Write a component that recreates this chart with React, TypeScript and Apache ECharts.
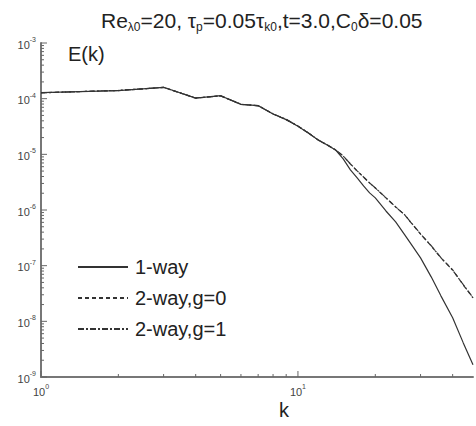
import React, { useEffect, useRef } from 'react';
import * as echarts from 'echarts';

// wavenumbers
const kValues = [1, 2, 3, 4, 5, 6, 7, 8, 9, 10, 11, 12, 13, 14, 15, 16, 17, 18, 19, 20, 22, 24, 26, 28, 30, 33, 36, 40, 44, 48];

// energy spectra E(k)
const oneWay = [
  1.28e-4, 1.4e-4, 1.6e-4, 1.02e-4, 1.13e-4, 7.9e-5, 7.5e-5, 5.3e-5, 4.2e-5, 3.2e-5,
  2.4e-5, 1.8e-5, 1.47e-5, 1.2e-5, 8.3e-6, 5.25e-6, 3.77e-6, 2.71e-6, 2.03e-6, 1.65e-6,
  9.6e-7, 6.1e-7, 3.6e-7, 2.2e-7, 1.38e-7, 6.3e-8, 2.87e-8, 1.16e-8, 4.1e-9, 1.66e-9,
];
const twoWayG0 = [
  1.28e-4, 1.4e-4, 1.6e-4, 1.02e-4, 1.13e-4, 7.9e-5, 7.5e-5, 5.3e-5, 4.2e-5, 3.2e-5,
  2.4e-5, 1.8e-5, 1.47e-5, 1.2e-5, 9.4e-6, 6.7e-6, 5.0e-6, 3.9e-6, 3.07e-6, 2.49e-6,
  1.65e-6, 1.14e-6, 8.2e-7, 5.4e-7, 3.7e-7, 2.27e-7, 1.38e-7, 8.4e-8, 4.5e-8, 2.64e-8,
];
const twoWayG1 = [
  1.27e-4, 1.41e-4, 1.59e-4, 1.03e-4, 1.12e-4, 7.95e-5, 7.45e-5, 5.35e-5, 4.25e-5, 3.22e-5,
  2.42e-5, 1.81e-5, 1.48e-5, 1.21e-5, 9.3e-6, 6.75e-6, 5.05e-6, 3.92e-6, 3.05e-6, 2.5e-6,
  1.66e-6, 1.13e-6, 8.25e-7, 5.45e-7, 3.72e-7, 2.28e-7, 1.39e-7, 8.3e-8, 4.55e-8, 2.66e-8,
];

const seriesNames = ['1-way', '2-way,g=0', '2-way,g=1'];

// axis ticks
const xMajorTicks = [1, 10];
const xMinorTicks = [2, 3, 4, 5, 6, 7, 8, 9, 20, 30, 40];
const yMajorExponents = [-9, -8, -7, -6, -5, -4, -3];
const yMinorMantissas = [2, 3, 4, 5, 6, 7, 8, 9];

const X_MIN = 1;
const X_MAX = 48;
const Y_MIN = 1e-9;
const Y_MAX = 1e-3;

function pairs(ys: number[]) {
  return kValues.map((k, i) => [k, ys[i]]);
}

export default function App() {
  const ref = useRef<HTMLDivElement>(null);

  useEffect(() => {
    if (!ref.current) return;
    const chart = echarts.init(ref.current, undefined, { renderer: 'svg' });

    const tickData: number[][] = [];
    yMajorExponents.forEach((e) => {
      tickData.push([X_MIN, Math.pow(10, e), 0, 6]);
      if (e < -3) {
        yMinorMantissas.forEach((m) => tickData.push([X_MIN, m * Math.pow(10, e), 0, 3]));
      }
    });
    xMajorTicks.forEach((k) => tickData.push([k, Y_MIN, 1, 6]));
    xMinorTicks.forEach((k) => tickData.push([k, Y_MIN, 1, 3]));

    const powLabel = (v: number) => {
      const e = Math.round(Math.log10(v));
      if (Math.abs(Math.pow(10, e) - v) / v > 1e-6) return '';
      return '{b|10}{s|' + String(e) + '}';
    };
    const labelRich = {
      b: { fontSize: 11, lineHeight: 14, verticalAlign: 'bottom', color: '#444', fontFamily: 'Liberation Sans' },
      s: { fontSize: 7, lineHeight: 7, verticalAlign: 'top', color: '#444', fontFamily: 'Liberation Sans' },
    };

    const lineColor = '#333';
    const dashes: any[] = ['solid', [4, 3], [6, 2, 2, 2]];
    const dataSets = [oneWay, twoWayG0, twoWayG1];

    chart.setOption({
      animation: false,
      backgroundColor: '#fff',
      title: {
        text: '{a|Re}{s|λ0}{a|=20, τ}{s|p}{a|=0.05τ}{s|k0}{a|,t=3.0,C}{s|0}{a|δ=0.05}',
        left: 96,
        top: 2,
        textStyle: {
          fontWeight: 'normal',
          rich: {
            a: { fontSize: 21, lineHeight: 26, verticalAlign: 'middle', color: '#222', fontWeight: 'normal', fontFamily: 'Liberation Sans' },
            s: { fontSize: 12, lineHeight: 11, verticalAlign: 'bottom', color: '#222', fontWeight: 'normal', fontFamily: 'Liberation Sans' },
          },
        },
      },
      legend: {
        data: seriesNames,
        orient: 'vertical',
        left: 72,
        top: 252,
        itemWidth: 50,
        itemHeight: 14,
        itemGap: 11,
        itemStyle: { opacity: 0 },
        textStyle: { fontSize: 20, lineHeight: 20, color: '#222', fontFamily: 'Liberation Sans', padding: [0, 0, 0, 2] },
      },
      grid: { left: 41, right: 0, top: 43, bottom: 49 },
      xAxis: {
        type: 'log',
        logBase: 10,
        min: X_MIN,
        max: X_MAX,
        axisLine: { lineStyle: { color: '#777', width: 2 } },
        axisTick: { show: false },
        splitLine: { show: false },
        axisLabel: { formatter: powLabel, rich: labelRich, margin: 6 },
      },
      yAxis: {
        type: 'log',
        logBase: 10,
        min: Y_MIN,
        max: Y_MAX,
        splitNumber: 6,
        axisLine: { show: true, lineStyle: { color: '#777', width: 2 } },
        axisTick: { show: false },
        splitLine: { show: false },
        axisLabel: { formatter: powLabel, rich: labelRich, margin: 5 },
      },
      graphic: [
        { type: 'text', left: 68, top: 44, style: { text: 'E(k)', fontSize: 20, fill: '#222', fontFamily: 'Liberation Sans' } },
        { type: 'text', left: 279, top: 400, style: { text: 'k', fontSize: 20, fill: '#222', fontFamily: 'Liberation Sans' } },
      ],
      series: [
        ...dataSets.map((d, i) => ({
          name: seriesNames[i],
          type: 'line',
          data: pairs(d),
          symbol: 'none',
          lineStyle: { color: lineColor, width: 1.2, type: dashes[i] },
          itemStyle: { color: lineColor },
          z: 3 + i,
        })),
        {
          type: 'custom',
          name: 'ticks',
          silent: true,
          clip: false,
          data: tickData,
          renderItem: (params: any, api: any) => {
            const p = api.coord([api.value(0), api.value(1)]);
            const dir = api.value(2);
            const len = api.value(3);
            return {
              type: 'line',
              shape: dir === 0
                ? { x1: p[0], y1: p[1], x2: p[0] + len, y2: p[1] }
                : { x1: p[0], y1: p[1], x2: p[0], y2: p[1] - len },
              style: { stroke: '#666', lineWidth: 1 },
            };
          },
          z: 2,
        },
      ],
    });

    return () => chart.dispose();
  }, []);

  return (
    <div
      ref={ref}
      style={{ position: 'fixed', left: 0, top: 0, width: 476, height: 426, background: '#fff' }}
    />
  );
}
